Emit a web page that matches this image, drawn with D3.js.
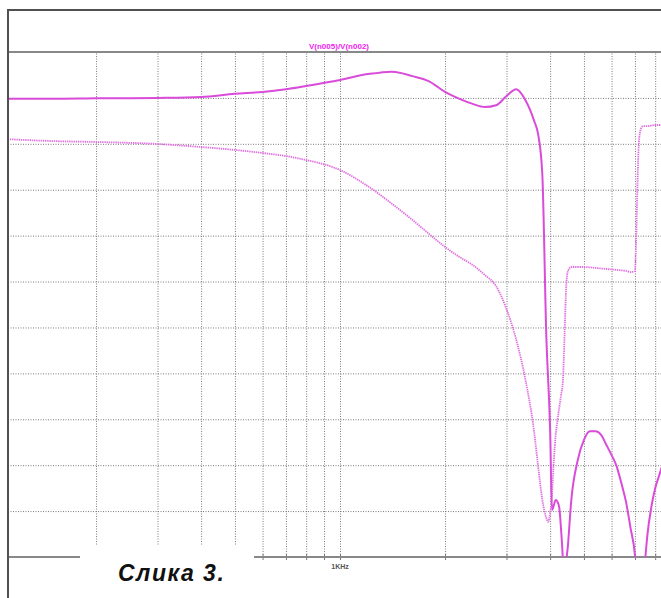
<!DOCTYPE html>
<html>
<head>
<meta charset="utf-8">
<title>V(n005)/V(n002)</title>
<style>
  body { margin: 0; background: #fff; }
  svg { display: block; }
</style>
</head>
<body>
<div id="chart"></div>

<script src="https://d3js.org/d3.v7.min.js"></script>
<script>

// magnitude trace (solid), frequency in Hz, value in dB
var magFreq = [110,150,200,300,400,500,600,700,800,1000,1200,1300,1400,1500,1600,1800,2000,2200,2400,2600,2800,3000,
               3200,3400,3600,3700,3800,3900,4000,4050,4100,4150,4200,4250,4300,4350,4400,4450,4500,4600,4800,5000,
               5200,5400,5600,5800,6000,6200,6400,6600,6800,7000,7100,7200,7400,7500,7600,7800,8000,8200,8400];
var magDb = [-0.2,-0.2,-0.1,0.0,0.2,0.9,1.3,1.9,2.6,3.9,5.2,5.5,5.7,5.4,4.8,3.6,1.3,-0.2,-1.3,-2.0,-1.6,0.4,
             1.9,-0.5,-5.0,-8.1,-16.8,-51.6,-72.3,-89.8,-88.7,-87.6,-88.0,-89.3,-94.1,-100.6,-113.7,-101.7,-97.4,-87.6,-78.9,-74.5,
             -72.6,-72.6,-73.4,-75.6,-77.8,-80.2,-83.9,-88.0,-93.7,-99.6,-106.0,-113.7,-106.0,-100.0,-95.2,-89.1,-85.0,-82.4,-79.9];

// phase trace (dotted), frequency in Hz, value in degrees
var phaseFreq = [110,150,200,300,400,500,600,700,800,1000,1200,1400,1600,1800,2000,2200,2400,2600,2800,3000,
                 3200,3400,3600,3700,3800,3900,3950,4000,4050,4100,4150,4200,4300,4350,4400,4450,4500,4600,4800,5000,
                 5400,5800,6200,6600,6800,7000,7050,7100,7150,7200,7300,7400,7600,8000,8400];
var phaseDeg = [-26.9,-28.2,-28.8,-30.1,-32.1,-34.0,-36.0,-38.0,-40.6,-47.1,-57.6,-68.7,-79.1,-88.9,-97.4,-104.0,-109.2,-115.7,-123.0,-138.0,
                -158.2,-184.3,-218.3,-241.8,-262.7,-274.4,-277.0,-271.1,-259.4,-236.6,-220.3,-210.5,-194.2,-185.7,-154.9,-122.3,-113.1,-110.5,-110.5,-110.5,
                -111.1,-111.8,-112.4,-113.1,-113.8,-113.1,-96.1,-66.7,-40.6,-26.2,-19.6,-18.4,-18.4,-17.7,-17.7];

// grid + labels
var gridFreq = [200,300,400,500,600,700,800,900,1000,2000,3000,4000,5000,6000,7000,8000,9000];
var gridDb = [0,-10,-20,-30,-40,-50,-60,-70,-80,-90];
var freqLabels = [1000];
var title = "V(n005)/V(n002)";
var caption = "Слика 3.";

var W = 661, H = 598;
var plotTop = 52, plotBottom = 557, plotLeft = 8;

var svg = d3.select("#chart").append("svg")
    .attr("width", W).attr("height", H);

var x = d3.scaleLog().domain([100, 10000]).range([-9, 689]);
var yMag = d3.scaleLinear().domain([-100, 10]).range([plotBottom, plotTop]);
var yPh = d3.scaleLinear().domain([-300, 30]).range([plotBottom, plotTop]);

svg.append("defs").append("clipPath").attr("id", "plot")
  .append("rect").attr("x", plotLeft).attr("y", plotTop)
  .attr("width", W - plotLeft).attr("height", plotBottom - plotTop);

// vertical grid
var vgrid = svg.append("g").attr("transform", "translate(0," + plotBottom + ")")
    .call(d3.axisBottom(x).tickValues(gridFreq).tickSize(-(plotBottom - plotTop)).tickFormat(""));
vgrid.select(".domain").remove();
vgrid.selectAll(".tick line").attr("stroke", "#7a7a7a").attr("stroke-width", 1).attr("stroke-dasharray", "1,1.5");

// horizontal grid
var hgrid = svg.append("g").attr("transform", "translate(" + plotLeft + ",0)")
    .call(d3.axisLeft(yMag).tickValues(gridDb).tickSize(-(W - plotLeft)).tickFormat(""));
hgrid.select(".domain").remove();
hgrid.selectAll(".tick line").attr("stroke", "#7a7a7a").attr("stroke-width", 1).attr("stroke-dasharray", "1,1.5");

// top plot edge and bottom axis
svg.append("line").attr("x1", plotLeft).attr("x2", W).attr("y1", yMag(10)).attr("y2", yMag(10))
   .attr("stroke", "#888").attr("stroke-width", 2);

var xaxis = svg.append("g").attr("transform", "translate(0," + plotBottom + ")")
    .call(d3.axisBottom(x).tickValues(gridFreq).tickSize(3).tickFormat(""));
xaxis.select(".domain").remove();
xaxis.selectAll(".tick line").attr("stroke", "#777").attr("y1", -3);
svg.append("line").attr("x1", plotLeft).attr("x2", W).attr("y1", plotBottom).attr("y2", plotBottom)
   .attr("stroke", "#888").attr("stroke-width", 2);

svg.selectAll("text.flab").data(freqLabels).enter().append("text")
   .attr("class", "flab")
   .attr("x", function(d){ return x(d); }).attr("y", plotBottom + 12)
   .attr("text-anchor", "middle")
   .style("font-family", "Liberation Sans, Arial, sans-serif").style("font-size", "7px").style("font-weight", "bold")
   .attr("fill", "#555")
   .text("1KHz");

// traces
var magLine = d3.line()
    .x(function(d){ return x(d[0]); })
    .y(function(d){ return yMag(d[1]); })
    .curve(d3.curveMonotoneX);
var phLine = d3.line()
    .x(function(d){ return x(d[0]); })
    .y(function(d){ return yPh(d[1]); })
    .curve(d3.curveMonotoneX);

var plot = svg.append("g").attr("clip-path", "url(#plot)");
plot.append("path")
    .datum(d3.zip(phaseFreq, phaseDeg))
    .attr("d", phLine)
    .attr("fill", "none").attr("stroke", "#e070e0").attr("stroke-width", 1.8)
    .attr("stroke-dasharray", "1.4,0.8");
plot.append("path")
    .datum(d3.zip(magFreq, magDb))
    .attr("d", magLine)
    .attr("fill", "none").attr("stroke", "#d94cd9").attr("stroke-width", 2);

// title
svg.append("text").attr("x", 339).attr("y", 49).attr("text-anchor", "middle")
   .style("font-family", "Liberation Sans Narrow, Liberation Sans, Arial, sans-serif")
   .style("font-size", "8px").style("font-weight", "bold")
   .attr("fill", "#f01cf0").text(title);

// frame
svg.append("line").attr("x1", plotLeft).attr("x2", W).attr("y1", 10).attr("y2", 10)
   .attr("stroke", "#505050").attr("stroke-width", 2);
svg.append("line").attr("x1", plotLeft).attr("x2", plotLeft).attr("y1", 9).attr("y2", H)
   .attr("stroke", "#505050").attr("stroke-width", 2);

// caption box
svg.append("rect").attr("x", 80).attr("y", 546).attr("width", 174).attr("height", 52).attr("fill", "#fff");
svg.append("text").attr("x", 118).attr("y", 581)
   .style("font-family", "Liberation Sans, Arial, sans-serif")
   .style("font-size", "23px").style("font-weight", "bold").style("font-style", "italic")
   .style("letter-spacing", "1.5px")
   .attr("fill", "#111").text(caption);

</script>
</body>
</html>
